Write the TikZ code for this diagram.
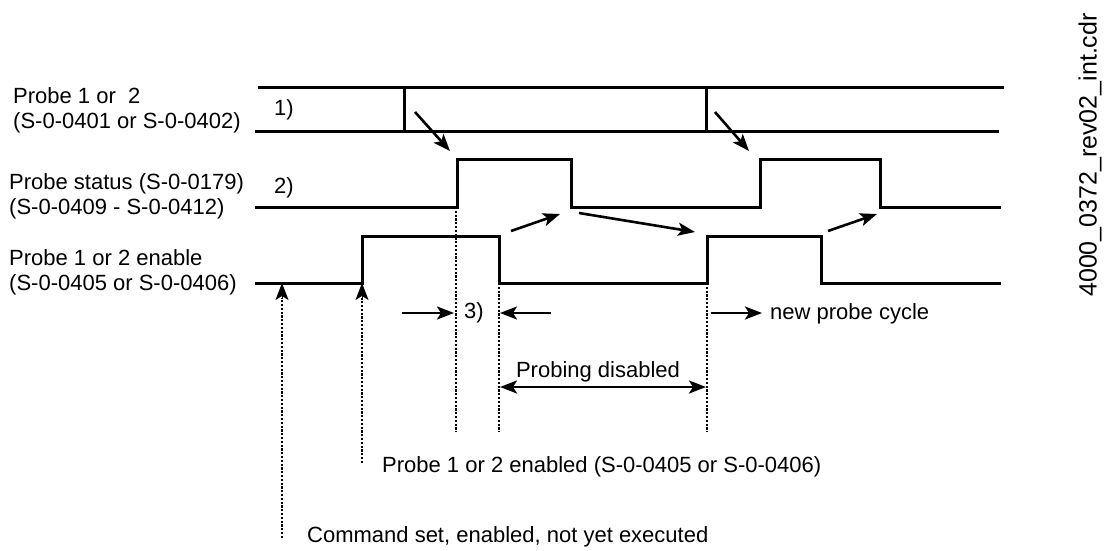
\documentclass[tikz,border=0pt]{standalone}
\usepackage{fontspec}
\setmainfont{Liberation Sans}
\usetikzlibrary{arrows.meta}
\begin{document}
\begin{tikzpicture}[x=1pt,y=-1pt,
  sig/.style={line width=3pt,line join=miter},
  tip/.style={-{Stealth[length=17pt,width=13pt,inset=4pt]}},
  arr/.style={line width=2.6pt,tip},
  darr/.style={line width=2.6pt,{Stealth[length=17pt,width=13pt,inset=4pt]}-{Stealth[length=17pt,width=13pt,inset=4pt]}},
  dots/.style={line width=2.4pt,dash pattern=on 2.2pt off 1.6pt},
  lbl/.style={inner sep=0pt,font=\fontsize{22}{25}\selectfont,align=left}]
\path[use as bounding box] (0,0) rectangle (1116,551);

% labels
\node[lbl,anchor=west] (l1) at (13,110) {Probe 1 or\ \ 2\\(S-0-0401 or S-0-0402)};
\node[lbl,anchor=west] (l2) at (9,196) {Probe status (S-0-0179)\\(S-0-0409 - S-0-0412)};
\node[lbl,anchor=west] (l3) at (9,272) {Probe 1 or 2 enable\\(S-0-0405 or S-0-0406)};
\node[lbl] (n1) at (284,110) {1)};
\node[lbl] (n2) at (284,188) {2)};
\node[lbl] (n3) at (474,313) {3)};
\node[lbl,anchor=west] (npc) at (770,314) {new probe cycle};
\node[lbl] (pd) at (598,372) {Probing disabled};
\node[lbl,anchor=west] (en) at (382,467) {Probe 1 or 2 enabled (S-0-0405 or S-0-0406)};
\node[lbl,anchor=west] (cmd) at (307,537) {Command set, enabled, not yet executed};
\node[lbl,rotate=90,font=\fontsize{25}{25}\selectfont] (fn) at (1090,155) {4000\_0372\_rev02\_int.cdr};

% coordinates
\coordinate (a1) at (258,87);  \coordinate (a2) at (1004,87);
\coordinate (b1) at (255,131); \coordinate (b2) at (999,131);
\coordinate (v1t) at (404,87); \coordinate (v1b) at (404,131);
\coordinate (v2t) at (706,87); \coordinate (v2b) at (706,131);

% Probe 1 or 2 signal
\draw[sig] (a1) -- (a2);
\draw[sig] (b1) -- (b2);
\draw[sig] (v1t) -- (v1b);
\draw[sig] (v2t) -- (v2b);

% Probe status
\coordinate (sr1) at (457,207); \coordinate (sf1) at (571,207);
\coordinate (sr2) at (760,207); \coordinate (sf2) at (880,207);
\draw[sig] (255,207) -- (sr1) |- (571,159) -- (sf1) -- (sr2) |- (880,159) -- (sf2) -- (1001,207);

% Probe enable
\coordinate (er1) at (362,283); \coordinate (ef1) at (499,283);
\coordinate (er2) at (707,283); \coordinate (ef2) at (821,283);
\coordinate (e0) at (282,283);
\draw[sig] (255,283) -- (er1) |- (499,236) -- (ef1) -- (er2) |- (821,236) -- (ef2) -- (1001,283);

% causal arrows
\coordinate (c1s) at (415,112); \coordinate (c1e) at (450,151);
\coordinate (c2s) at (715,112); \coordinate (c2e) at (749,151);
\coordinate (c3s) at (511,231); \coordinate (c3e) at (560,214);
\coordinate (c4s) at (579,213); \coordinate (c4e) at (695,232);
\coordinate (c5s) at (828,231); \coordinate (c5e) at (877,214);
\draw[arr] (c1s) -- (c1e);
\draw[arr] (c2s) -- (c2e);
\draw[arr] (c3s) -- (c3e);
\draw[arr] (c4s) -- (c4e);
\draw[arr] (c5s) -- (c5e);

% dotted lines
\coordinate (d0) at (282,538);
\coordinate (d1) at (362,463);
\coordinate (d2) at (456,432);
\coordinate (d3) at (499,432);
\coordinate (d4) at (707,432);
\coordinate (d0t) at (282,298);
\coordinate (d1t) at (362,298);
\draw[dots] (d0) -- (d0t);
\draw[dots] (d1) -- (d1t);
\draw[line width=1pt,tip] (d0t) -- (e0);
\draw[line width=1pt,tip] (d1t) -- (er1);
\draw[dots] (456,207) -- (d2);
\draw[dots] (ef1) -- (d3);
\draw[dots] (er2) -- (d4);

% 3) arrows
\coordinate (t1s) at (402,313); \coordinate (t1e) at (454,313);
\coordinate (t2s) at (551,313); \coordinate (t2e) at (500,313);
\draw[arr] (t1s) -- (t1e);
\draw[arr] (t2s) -- (t2e);

% new probe cycle
\coordinate (p1s) at (711,313); \coordinate (p1e) at (762,313);
\draw[arr] (p1s) -- (p1e);

% probing disabled
\coordinate (q1) at (500,387); \coordinate (q2) at (706,387);
\draw[darr] (q1) -- (q2);
\end{tikzpicture}
\end{document}
